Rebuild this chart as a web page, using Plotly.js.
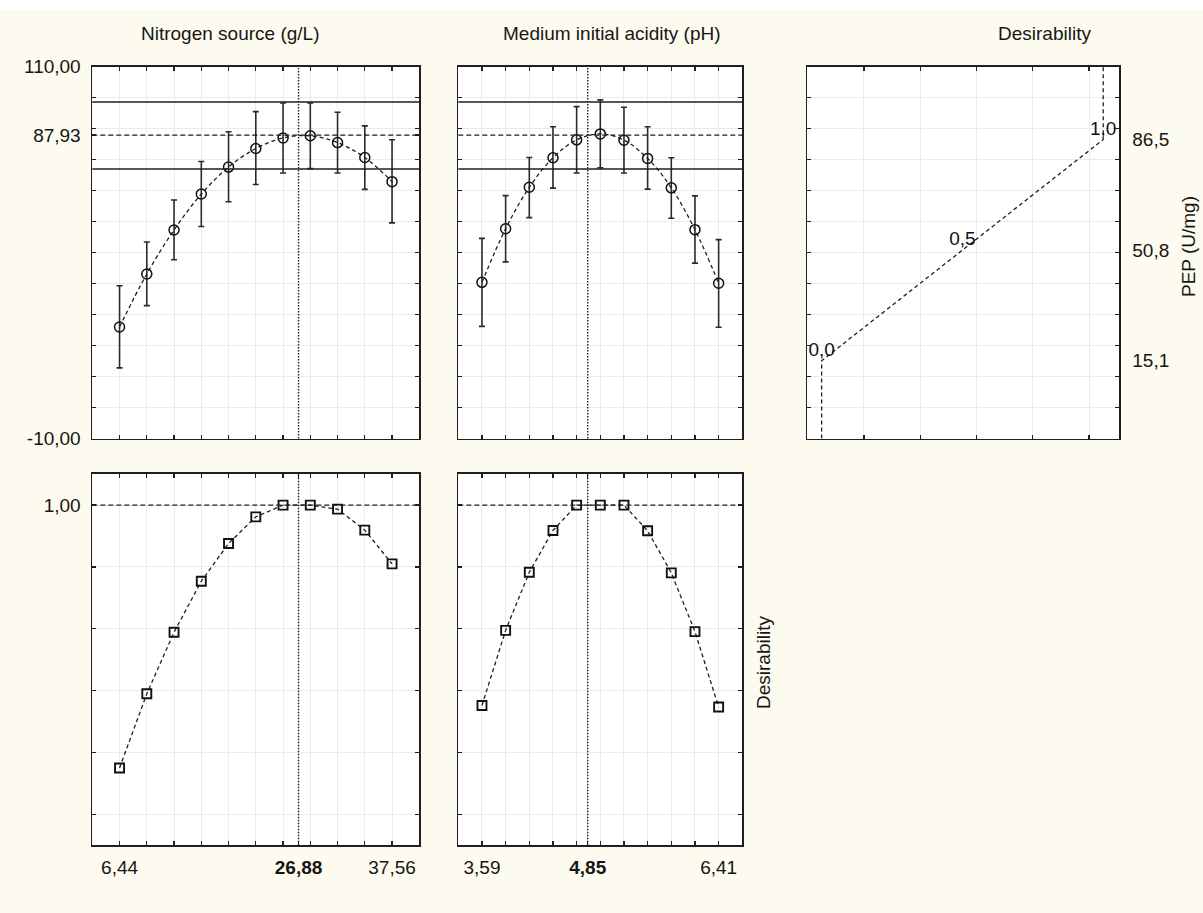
<!DOCTYPE html>
<html>
<head>
<meta charset="utf-8">
<script src="https://cdn.plot.ly/plotly-3.0.1.min.js"></script>
<style>html,body{margin:0;padding:0;background:#fdfbef;}#chart{width:1203px;height:913px;}</style>
</head>
<body>
<div id="chart"></div>
<script>
// ---------- data ----------
const nitrogen = [6.44, 9.552, 12.664, 15.776, 18.888, 22.0, 25.112, 28.224, 31.336, 34.448, 37.56];
const pepNitrogen = [26.0, 43.1, 57.3, 68.9, 77.6, 83.6, 87.0, 87.7, 85.5, 80.7, 72.9];
const pepNitrogenUpper = [39.3, 53.4, 67.0, 79.4, 89.0, 95.5, 98.3, 98.3, 95.3, 90.9, 86.4];
const pepNitrogenLower = [12.8, 32.9, 47.7, 58.4, 66.4, 72.0, 75.7, 77.1, 75.7, 70.4, 59.6];
const desNitrogen = [0.150, 0.390, 0.589, 0.754, 0.876, 0.962, 1.0, 1.0, 0.987, 0.919, 0.810];

const ph = [3.59, 3.872, 4.154, 4.436, 4.718, 5.0, 5.282, 5.564, 5.846, 6.128, 6.41];
const pepPh = [40.4, 57.7, 71.1, 80.6, 86.4, 88.3, 86.3, 80.4, 70.9, 57.4, 40.1];
const pepPhUpper = [54.6, 68.4, 80.7, 90.6, 97.1, 99.3, 96.9, 90.6, 80.6, 68.3, 54.2];
const pepPhLower = [26.2, 47.0, 61.3, 70.8, 75.7, 77.4, 75.7, 70.5, 61.1, 46.6, 25.9];
const desPh = [0.352, 0.595, 0.783, 0.918, 1.0, 1.0, 1.0, 0.917, 0.781, 0.591, 0.347];

// desirability function of PEP
const dFuncD = [0, 0, 0.5, 1, 1];
const dFuncPep = [-10, 15.1, 50.8, 86.5, 110];
const dFuncPointD = [0, 0.5, 1];
const dFuncPointPep = [15.1, 50.8, 86.5];
const dFuncPointLabels = ['0,0', '0,5', '1,0'];

// optimum
const optNitrogen = 26.88;
const optPh = 4.85;
const predictedPep = 87.93;
const pepBandUpper = 98.6;
const pepBandLower = 77.0;
const optDesirability = 1.0;

// axis ticks / labels
const pepRange = [-10, 110];
const pepGrid = [0, 10, 20, 30, 40, 50, 60, 70, 80, 90, 100];
const pepTickVals = [-10, 87.93, 110];
const pepTickText = ['-10,00', '87,93', '110,00'];
const pepDesTickVals = [15.1, 50.8, 86.5];
const pepDesTickText = ['15,1', '50,8', '86,5'];
const desRange = [-0.1, 1.1];
const desGrid = [0, 0.2, 0.4, 0.6, 0.8];
const desTickVals = [1.0];
const desTickText = ['1,00'];
const nitrogenTickVals = [6.44, 26.88, 37.56];
const nitrogenTickText = ['6,44', '<b>26,88</b>', '37,56'];
const phTickVals = [3.59, 4.85, 6.41];
const phTickText = ['3,59', '<b>4,85</b>', '6,41'];
const dFuncGrid = [0.15, 0.35, 0.55, 0.75, 0.95];
const nitrogenRange = [3.328, 40.672];
const phRange = [3.308, 6.692];
const dRange = [-0.051, 1.055];

const colTitles = ['Nitrogen source (g/L)', 'Medium initial acidity (pH)', 'Desirability'];
const pepAxisTitle = 'PEP (U/mg)';
const desAxisTitle = 'Desirability';

// ---------- layout helpers ----------
const W = 1203, H = 913;
const fx = v => v / W;
const fy = v => 1 - v / H;
const FONT = 'Liberation Sans, Arial, sans-serif';
const INK = '#1f1f1f';
const GRID = '#ebebeb';

const col1 = [fx(92.3), fx(419.3)];
const col2 = [fx(458.3), fx(742.3)];
const col3 = [fx(807.3), fx(1118.7)];
const rowTop = [fy(438.5), fy(66.7)];
const rowBot = [fy(845.3), fy(474.2)];

function minor(vals) {
  return {tickmode: 'array', tickvals: vals, ticks: 'inside', ticklen: 4, tickwidth: 1.3,
          tickcolor: INK, showgrid: true, gridcolor: GRID, gridwidth: 1};
}
function ax(extra) {
  return Object.assign({
    showline: true, linecolor: INK, linewidth: 1.8, mirror: 'ticks',
    ticks: 'inside', ticklen: 4, tickwidth: 1.3, tickcolor: INK,
    showgrid: true, gridcolor: GRID, gridwidth: 1, zeroline: false, fixedrange: true,
    tickfont: {family: FONT, size: 19, color: '#161616'}
  }, extra);
}

const errUp = (u, v) => u.map((x, i) => x - v[i]);
const errDn = (l, v) => l.map((x, i) => v[i] - x);

const curveLine = {shape: 'spline', dash: '4px,3px', color: INK, width: 1.3};
const errStyle = {color: '#2a2a2a', thickness: 1.6, width: 3};

const traces = [
  {x: nitrogen, y: pepNitrogen, xaxis: 'x', yaxis: 'y', type: 'scatter', mode: 'lines+markers',
   line: curveLine, marker: {symbol: 'circle-open', size: 10, color: '#111', line: {width: 1.5}},
   error_y: Object.assign({type: 'data', symmetric: false,
     array: errUp(pepNitrogenUpper, pepNitrogen), arrayminus: errDn(pepNitrogenLower, pepNitrogen)}, errStyle),
   hoverinfo: 'skip'},
  {x: ph, y: pepPh, xaxis: 'x2', yaxis: 'y2', type: 'scatter', mode: 'lines+markers',
   line: curveLine, marker: {symbol: 'circle-open', size: 10, color: '#111', line: {width: 1.5}},
   error_y: Object.assign({type: 'data', symmetric: false,
     array: errUp(pepPhUpper, pepPh), arrayminus: errDn(pepPhLower, pepPh)}, errStyle),
   hoverinfo: 'skip'},
  {x: dFuncD, y: dFuncPep, xaxis: 'x3', yaxis: 'y3', type: 'scatter', mode: 'lines',
   line: {dash: '4px,3px', color: INK, width: 1.3}, hoverinfo: 'skip'},
  {x: dFuncPointD, y: dFuncPointPep, xaxis: 'x3', yaxis: 'y3', type: 'scatter', mode: 'text',
   text: dFuncPointLabels, textposition: 'top center', cliponaxis: false,
   textfont: {family: FONT, size: 19, color: '#111'}, hoverinfo: 'skip'},
  {x: nitrogen, y: desNitrogen, xaxis: 'x4', yaxis: 'y4', type: 'scatter', mode: 'lines+markers',
   line: {dash: '4px,3px', color: INK, width: 1.3},
   marker: {symbol: 'square-open', size: 9, color: '#111', line: {width: 1.9}}, hoverinfo: 'skip'},
  {x: ph, y: desPh, xaxis: 'x5', yaxis: 'y5', type: 'scatter', mode: 'lines+markers',
   line: {dash: '4px,3px', color: INK, width: 1.3},
   marker: {symbol: 'square-open', size: 9, color: '#111', line: {width: 1.9}}, hoverinfo: 'skip'}
];

function hline(xr, yr, y, dash, w) {
  return {type: 'line', xref: xr + ' domain', x0: 0, x1: 1, yref: yr, y0: y, y1: y,
          line: {color: INK, width: w, dash: dash}, layer: 'above'};
}
function vline(xr, yr, x) {
  return {type: 'line', xref: xr, x0: x, x1: x, yref: yr + ' domain', y0: 0, y1: 1,
          line: {color: INK, width: 1.4, dash: '1.5px,1.5px'}, layer: 'above'};
}

const shapes = [
  {type: 'rect', xref: 'paper', yref: 'paper', x0: 0, x1: 1, y0: fy(10), y1: 1,
   fillcolor: '#ffffff', line: {width: 0}, layer: 'below'},
  hline('x', 'y', predictedPep, '5px,3px', 1.3),
  hline('x', 'y', pepBandUpper, 'solid', 1.5),
  hline('x', 'y', pepBandLower, 'solid', 1.5),
  hline('x2', 'y2', predictedPep, '5px,3px', 1.3),
  hline('x2', 'y2', pepBandUpper, 'solid', 1.5),
  hline('x2', 'y2', pepBandLower, 'solid', 1.5),
  hline('x4', 'y4', optDesirability, '5px,3px', 1.3),
  hline('x5', 'y5', optDesirability, '5px,3px', 1.3),
  vline('x', 'y', optNitrogen),
  vline('x4', 'y4', optNitrogen),
  vline('x2', 'y2', optPh),
  vline('x5', 'y5', optPh)
];

const titleFont = {family: FONT, size: 19, color: '#161616'};
const annotations = [
  {text: colTitles[0], xref: 'paper', yref: 'paper', x: fx(229.5), y: fy(33), xanchor: 'center', yanchor: 'middle', showarrow: false, font: titleFont},
  {text: colTitles[1], xref: 'paper', yref: 'paper', x: fx(612), y: fy(33), xanchor: 'center', yanchor: 'middle', showarrow: false, font: titleFont},
  {text: colTitles[2], xref: 'paper', yref: 'paper', x: fx(1044), y: fy(33), xanchor: 'center', yanchor: 'middle', showarrow: false, font: titleFont},
  {text: pepAxisTitle, xref: 'paper', yref: 'paper', x: fx(1188), y: fy(247), xanchor: 'center', yanchor: 'middle', textangle: -90, showarrow: false, font: titleFont},
  {text: desAxisTitle, xref: 'paper', yref: 'paper', x: fx(763), y: fy(663), xanchor: 'center', yanchor: 'middle', textangle: -90, showarrow: false, font: titleFont}
];

const layout = {
  width: W, height: H,
  margin: {l: 0, r: 0, t: 0, b: 0, pad: 0},
  paper_bgcolor: '#fdfbef', plot_bgcolor: '#ffffff',
  showlegend: false,
  xaxis: ax({domain: col1, anchor: 'y', range: nitrogenRange, tickmode: 'array', tickvals: nitrogen, showticklabels: false}),
  yaxis: ax({domain: rowTop, anchor: 'x', range: pepRange, tickmode: 'array', tickvals: pepTickVals, ticktext: pepTickText, ticklabelstandoff: 6, minor: minor(pepGrid)}),
  xaxis2: ax({domain: col2, anchor: 'y2', range: phRange, tickmode: 'array', tickvals: ph, showticklabels: false}),
  yaxis2: ax({domain: rowTop, anchor: 'x2', range: pepRange, tickmode: 'array', tickvals: pepGrid, showticklabels: false}),
  xaxis3: ax({domain: col3, anchor: 'y3', range: dRange, tickmode: 'array', tickvals: dFuncGrid, showticklabels: false}),
  yaxis3: ax({domain: rowTop, anchor: 'x3', side: 'right', range: pepRange, tickmode: 'array', tickvals: pepDesTickVals, ticktext: pepDesTickText, ticks: '', showgrid: false, ticklabelstandoff: 8, minor: minor(pepGrid)}),
  xaxis4: ax({domain: col1, anchor: 'y4', range: nitrogenRange, tickmode: 'array', tickvals: nitrogenTickVals, ticktext: nitrogenTickText, ticklabelstandoff: 4, minor: minor(nitrogen)}),
  yaxis4: ax({domain: rowBot, anchor: 'x4', range: desRange, tickmode: 'array', tickvals: desTickVals, ticktext: desTickText, ticklabelstandoff: 6, minor: minor(desGrid)}),
  xaxis5: ax({domain: col2, anchor: 'y5', range: phRange, tickmode: 'array', tickvals: phTickVals, ticktext: phTickText, ticklabelstandoff: 4, minor: minor(ph)}),
  yaxis5: ax({domain: rowBot, anchor: 'x5', range: desRange, tickmode: 'array', tickvals: desGrid.concat(desTickVals), showticklabels: false}),
  shapes: shapes,
  annotations: annotations
};

Plotly.newPlot('chart', traces, layout, {staticPlot: true, displayModeBar: false});
</script>
</body>
</html>
